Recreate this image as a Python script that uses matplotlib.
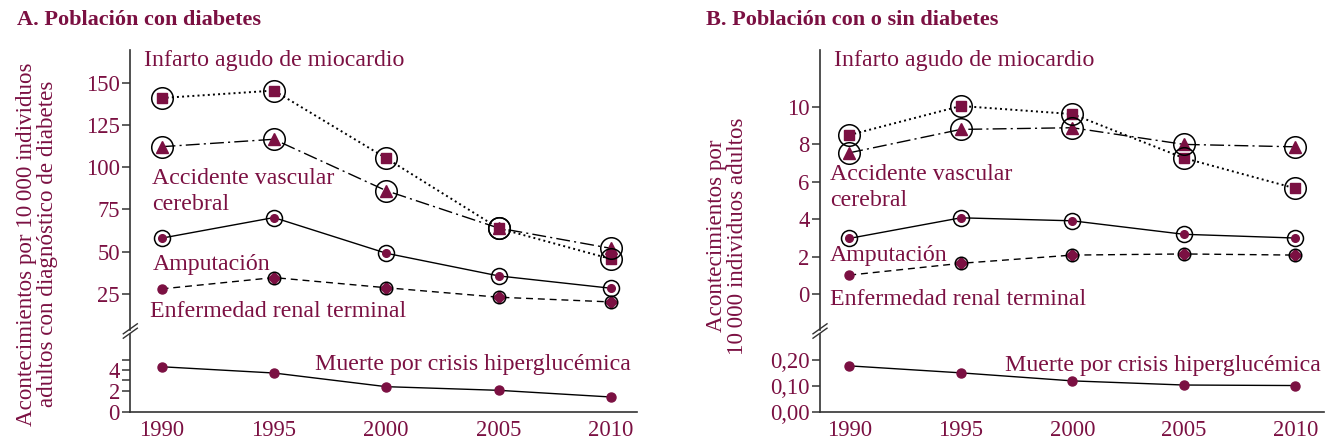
import matplotlib
matplotlib.use("Agg")
import matplotlib.pyplot as plt
from matplotlib.lines import Line2D

# ---------------- data ----------------
years = [1990, 1995, 2000, 2005, 2010]

# Panel A: population with diabetes (per 10 000 adults with diabetes)
a_infarto = [140.9, 145.3, 105.3, 63.9, 45.7]
a_acv = [112.1, 116.5, 86.1, 64.0, 52.0]
a_amputacion = [58.0, 70.2, 49.1, 35.7, 28.4]
a_renal = [28.0, 34.7, 28.7, 23.1, 20.3]
a_hiper = [4.31, 3.71, 2.40, 2.05, 1.41]

# Panel B: population with or without diabetes (per 10 000 adults)
b_infarto = [8.49, 10.04, 9.61, 7.26, 5.64]
b_acv = [7.54, 8.79, 8.88, 7.99, 7.86]
b_amputacion = [2.97, 4.07, 3.91, 3.19, 2.99]
b_renal = [1.01, 1.64, 2.08, 2.14, 2.08]
b_hiper = [0.177, 0.150, 0.119, 0.103, 0.101]

# circled (significant) points
a_infarto_ring = [True, True, True, True, True]
a_acv_ring = [True, True, True, True, True]
a_amputacion_ring = [True, True, True, True, True]
a_renal_ring = [False, True, True, True, True]
b_infarto_ring = [True, True, True, True, True]
b_acv_ring = [True, True, True, True, True]
b_amputacion_ring = [True, True, True, True, True]
b_renal_ring = [False, True, True, True, True]

a_top_ticks = [25, 50, 75, 100, 125, 150]
a_top_labels = ["25", "50", "75", "100", "125", "150"]
a_bot_ticks = [0, 2, 4]
a_bot_labels = ["0", "2", "4"]
a_bot_minor = [3, 5]
b_top_ticks = [0, 2, 4, 6, 8, 10]
b_top_labels = ["0", "2", "4", "6", "8", "10"]
b_bot_ticks = [0.0, 0.10, 0.20]
b_bot_labels = ["0,00", "0,10", "0,20"]
x_labels = ["1990", "1995", "2000", "2005", "2010"]

title_a = "A. Población con diabetes"
title_b = "B. Población con o sin diabetes"
ylabel_a = "Acontecimientos por 10\u2009000 individuos\nadultos con diagnóstico de diabetes"
ylabel_b = "Acontecimientos por\n10\u2009000 individuos adultos"
lab_infarto = "Infarto agudo de miocardio"
lab_acv = "Accidente vascular\ncerebral"
lab_amp = "Amputación"
lab_renal = "Enfermedad renal terminal"
lab_hiper = "Muerte por crisis hiperglucémica"

# ---------------- style ----------------
W, H = 1326, 442
MAROON = "#7b1042"
AXC = "#333333"
FAM = ["Liberation Serif", "DejaVu Serif"]
plt.rcParams["font.family"] = FAM
FS = 17.2
TFS = 16.3

fig = plt.figure(figsize=(W / 100, H / 100), dpi=100)


def px_axes(x0, y0, x1, y1):
    return fig.add_axes([x0 / W, 1 - y1 / H, (x1 - x0) / W, (y1 - y0) / H])


def ftext(x, y, s, **kw):
    kw.setdefault("color", MAROON)
    kw.setdefault("fontsize", FS)
    fig.text(x / W, 1 - y / H, s, **kw)


def style_axes(ax, bottom):
    for sp in ["top", "right"]:
        ax.spines[sp].set_visible(False)
    ax.spines["left"].set_color(AXC)
    ax.spines["left"].set_linewidth(1.2)
    if bottom:
        ax.spines["bottom"].set_color(AXC)
        ax.spines["bottom"].set_linewidth(1.2)
        ax.tick_params(axis="x", length=0, pad=6, labelsize=TFS, labelcolor=MAROON)
    else:
        ax.spines["bottom"].set_visible(False)
        ax.tick_params(axis="x", bottom=False, labelbottom=False)
    ax.tick_params(axis="y", which="both", length=6, width=1.1, color=AXC,
                   pad=1.5, labelsize=TFS, labelcolor=MAROON)
    ax.patch.set_alpha(0)


MARKER_SIZE = {"s": 6.5, "^": 8.0, "o": 5.5, "D": 6.2}


def series(ax, y, ls, markers, ring=None, ring_ms=None, dashes=None, lw=1.0,
           dot_ms=None):
    line, = ax.plot(years, y, color="black", lw=lw, ls=ls, zorder=2)
    if dashes is not None:
        line.set_dashes(dashes)
    if isinstance(markers, str):
        markers = [markers] * len(years)
    for x, v, m in zip(years, y, markers):
        size = MARKER_SIZE[m] if (m != "o" or dot_ms is None) else dot_ms
        ax.plot([x], [v], ls="none", marker=m, ms=size, color=MAROON,
                mec=MAROON, zorder=4, clip_on=False)
    if ring is not None:
        ry = [v for v, r in zip(y, ring) if r]
        rx = [x for x, r in zip(years, ring) if r]
        ax.plot(rx, ry, ls="none", marker="o", ms=ring_ms, mfc="none",
                mec="black", mew=1.1, zorder=5, clip_on=False)


def panel(x0, x1, xlim, top_lim, bot_lim, top_ticks, top_labels, bot_ticks,
          bot_labels, bot_minor, inf, acv, amp, ren, hip,
          inf_r, acv_r, amp_r, ren_r):
    axt = px_axes(x0, 50, x1, 330)
    axb = px_axes(x0, 334, x1, 411.7)
    for ax in (axt, axb):
        ax.set_xlim(*xlim)
        ax.set_xticks(years)
    axb.set_xticklabels(x_labels)
    axt.set_ylim(*top_lim)
    axb.set_ylim(*bot_lim)
    axt.set_yticks(top_ticks)
    axt.set_yticklabels(top_labels)
    axb.set_yticks(bot_ticks)
    axb.set_yticklabels(bot_labels)
    if bot_minor:
        axb.set_yticks(bot_minor, minor=True)
    style_axes(axt, False)
    style_axes(axb, True)

    series(axt, inf, ":", "s", inf_r, 15.5, lw=1.4)
    series(axt, acv, "-.", "^", acv_r, 15.5, dashes=(10, 3, 1.5, 3))
    series(axt, amp, "-", "o", amp_r, 11.5)
    ren_markers = ["D" if r else "o" for r in ren_r]
    series(axt, ren, "--", ren_markers, ren_r, 9.0, dashes=(5, 3.5), dot_ms=6.5)
    series(axb, hip, "-", "o", dot_ms=6.5)

    # break marks on the y axis
    for dy in (-2.2, 2.2):
        fig.add_artist(Line2D([(x0 - 7) / W, (x0 + 7) / W],
                              [1 - (336 + dy) / H, 1 - (326 + dy) / H],
                              color=AXC, lw=1.0))
    return axt, axb


panel(130.3, 636.5, (1988.61, 2011.14), (3.7, 169.3), (0, 7.45),
      a_top_ticks, a_top_labels, a_bot_ticks, a_bot_labels, a_bot_minor,
      a_infarto, a_acv, a_amputacion, a_renal, a_hiper,
      a_infarto_ring, a_acv_ring, a_amputacion_ring, a_renal_ring)

panel(820, 1323.8, (1988.69, 2011.27), (-1.92, 13.03), (0, 0.30),
      b_top_ticks, b_top_labels, b_bot_ticks, b_bot_labels, None,
      b_infarto, b_acv, b_amputacion, b_renal, b_hiper,
      b_infarto_ring, b_acv_ring, b_amputacion_ring, b_renal_ring)

# titles
ftext(17, 25, title_a, fontweight="bold", va="baseline", fontsize=16)
ftext(706, 25, title_b, fontweight="bold", va="baseline", fontsize=16)

# y labels
ftext(37, 244, ylabel_a, rotation=90, ha="center", va="center",
      multialignment="center", linespacing=0.95, fontsize=16.6)
ftext(727, 236, ylabel_b, rotation=90, ha="center", va="center",
      multialignment="center", linespacing=1.0, fontsize=16.6)

# series labels panel A
ftext(144, 65.7, lab_infarto, va="baseline")
ftext(152.5, 184, lab_acv.split("\n")[0], va="baseline")
ftext(152.5, 210, lab_acv.split("\n")[1], va="baseline")
ftext(152.5, 270, lab_amp, va="baseline")
ftext(150, 317, lab_renal, va="baseline")
ftext(315, 370, lab_hiper, va="baseline")

# series labels panel B
ftext(834, 65.7, lab_infarto, va="baseline")
ftext(830, 180, lab_acv.split("\n")[0], va="baseline")
ftext(830, 206, lab_acv.split("\n")[1], va="baseline")
ftext(830, 260.7, lab_amp, va="baseline")
ftext(830, 305, lab_renal, va="baseline")
ftext(1005, 370.7, lab_hiper, va="baseline")

fig.savefig("out.png", dpi=100)
